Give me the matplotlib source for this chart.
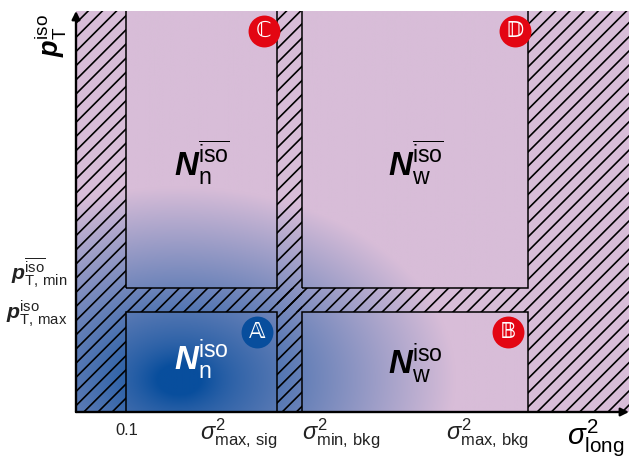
import numpy as np
import matplotlib
matplotlib.use("Agg")
import matplotlib.pyplot as plt
from matplotlib.patches import Rectangle

# ---- data: region boundaries --------------------------------------------
x_edges = [0.1, 0.40, 0.45, 0.90]          # 0.1, sigma2_max_sig, sigma2_min_bkg, sigma2_max_bkg
y_edges = [0.25, 0.31]                     # pT_max, pT_min
x_max, y_max = 1.1, 1.0
x_tick_labels = ["0.1", r"$\sigma^2_{\mathrm{max,\,sig}}$",
                 r"$\sigma^2_{\mathrm{min,\,bkg}}$", r"$\sigma^2_{\mathrm{max,\,bkg}}$"]
x_tick_ha = ["center", "right", "left", "right"]
y_tick_labels = [r"$\mathbf{p}^{\mathrm{iso}}_{\mathrm{T,\,max}}$",
                 r"$\mathbf{p}^{\overline{\mathrm{iso}}}_{\mathrm{T,\,min}}$"]
region_names = ["A", "B", "C", "D"]
region_glyphs = ["\U0001D538", "\U0001D539", "\u2102", "\U0001D53B"]
region_labels = [r"$\mathbf{N}^{\mathrm{iso}}_{\mathrm{n}}$",
                 r"$\mathbf{N}^{\mathrm{iso}}_{\mathrm{w}}$",
                 r"$\mathbf{N}^{\overline{\mathrm{iso}}}_{\mathrm{n}}$",
                 r"$\mathbf{N}^{\overline{\mathrm{iso}}}_{\mathrm{w}}$"]

PINK = np.array([216, 189, 216]) / 255
BLUE = np.array([8, 78, 157]) / 255
RED = "#e30613"
TXT = "#222222"

DPI = 85
plt.rcParams["mathtext.fontset"] = "custom"
plt.rcParams["mathtext.rm"] = "Liberation Sans"
plt.rcParams["mathtext.it"] = "Liberation Sans:italic"
plt.rcParams["mathtext.bf"] = "Liberation Sans:bold:italic"
plt.rcParams["font.family"] = ["Liberation Sans", "DejaVu Sans"]
plt.rcParams["hatch.linewidth"] = 1.4

fig = plt.figure(figsize=(629 / DPI, 459 / DPI), dpi=DPI)
ax = fig.add_axes([76 / 629, 47 / 459, 553 / 629, 401 / 459])
ax.set_xlim(0, x_max)
ax.set_ylim(0, y_max)
ax.axis("off")

# ---- radial blue gradient over pink -------------------------------------
nx, ny = 560, 400
gx = np.linspace(0, x_max, nx)
gy = np.linspace(0, y_max, ny)
GX, GY = np.meshgrid(gx, gy)
cx, cy, a, b = 0.205, 0.08, 0.55, 0.48
r = np.sqrt(((GX - cx) / a) ** 2 + ((GY - cy) / b) ** 2)
f = np.clip(1 - r, 0, 1)
f = f + 0.12 * np.exp(-(r / 0.12) ** 2)
f = np.clip(f, 0, 1)
img = PINK[None, None, :] * (1 - f[..., None]) + BLUE[None, None, :] * f[..., None]
ax.imshow(img, extent=[0, x_max, 0, y_max], origin="lower", aspect="auto", zorder=0)

x0, xs1, xs2, xb = x_edges
yl, yh = y_edges

# ---- hatched (excluded) regions ----------------------------------------
hatch_rects = [(0, 0, x0, y_max), (xs1, 0, xs2 - xs1, y_max),
               (x0, yl, xb - x0, yh - yl), (xb, 0, x_max - xb, y_max)]
for (hx, hy, hw, hh) in hatch_rects:
    ax.add_patch(Rectangle((hx, hy), hw, hh, facecolor="none", edgecolor="black",
                           hatch="//", linewidth=0, zorder=1))

# ---- region boxes -------------------------------------------------------
boxes = [(x0, 0, xs1, yl), (xs2, 0, xb, yl), (x0, yh, xs1, y_max + 0.1), (xs2, yh, xb, y_max + 0.1)]
for (bx0, by0, bx1, by1) in boxes:
    ax.add_patch(Rectangle((bx0, by0), bx1 - bx0, by1 - by0, facecolor="none",
                           edgecolor="black", linewidth=1.3, zorder=2, clip_on=True))

# region labels
label_pos = [((x0 + xs1) / 2, 0.13), ((xs2 + xb) / 2, 0.12),
             ((x0 + xs1) / 2, 0.62), ((xs2 + xb) / 2, 0.62)]
label_col = ["white", "black", "black", "black"]
for (lx, ly), lab, col in zip(label_pos, region_labels, label_col):
    ax.text(lx, ly, lab, ha="center", va="center", fontsize=28, color=col, zorder=4)

# circled letters
circ_pos = [(xs1 - 0.04, yl - 0.05), (xb - 0.041, yl - 0.05),
            (xs1 - 0.026, y_max - 0.05), (xb - 0.027, y_max - 0.05)]
circ_col = [BLUE, RED, RED, RED]
for (px, py), g, c in zip(circ_pos, region_glyphs, circ_col):
    ax.scatter([px], [py], s=730, color=c, zorder=5, linewidths=0)
    ax.text(px, py, g, ha="center", va="center", fontsize=19, color="white",
            family="DejaVu Sans", zorder=6)

# ---- axes arrows --------------------------------------------------------
ax.annotate("", xy=(x_max, 0), xytext=(0, 0), annotation_clip=False,
            arrowprops=dict(arrowstyle="-|>", lw=2.0, color="black",
                            mutation_scale=14, shrinkA=0, shrinkB=0), zorder=7)
ax.annotate("", xy=(0, y_max), xytext=(0, 0), annotation_clip=False,
            arrowprops=dict(arrowstyle="-|>", lw=2.0, color="black",
                            mutation_scale=14, shrinkA=0, shrinkB=0), zorder=7)

# ---- tick labels --------------------------------------------------------
for xv, lab, ha in zip(x_edges, x_tick_labels, x_tick_ha):
    fs = 14 if lab == "0.1" else 20
    yy = -0.027 if lab == "0.1" else -0.012
    ax.text(xv, yy, lab, ha=ha, va="top", fontsize=fs, color=TXT, clip_on=False)

ax.text(-0.018, yh + 0.035, y_tick_labels[1], ha="right", va="center", fontsize=18,
        color=TXT, clip_on=False)
ax.text(-0.018, yl - 0.005, y_tick_labels[0], ha="right", va="center", fontsize=18,
        color=TXT, clip_on=False)

# axis labels
ax.text(-0.052, 0.94, r"$\mathbf{p}^{\mathrm{iso}}_{\mathrm{T}}$", rotation=90,
        ha="center", va="center", fontsize=23, clip_on=False)
ax.text(1.034, -0.064, r"$\sigma^{2}_{\mathrm{long}}$", ha="center", va="center",
        fontsize=25, clip_on=False)

fig.savefig("out.png", dpi=DPI)
